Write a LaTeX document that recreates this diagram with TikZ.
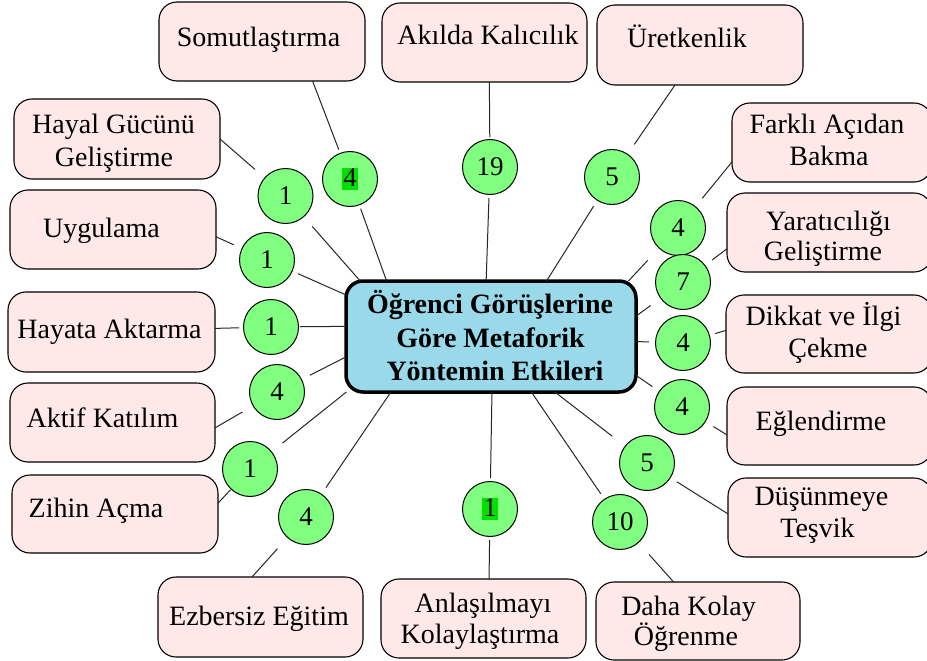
\documentclass[tikz,border=0pt]{standalone}
\usepackage{fontspec}
\setmainfont{Liberation Serif}
\definecolor{boxpink}{HTML}{FFE8E8}
\definecolor{circgreen}{HTML}{80FF80}
\definecolor{mainblue}{HTML}{99D9EA}
\definecolor{hlgreen}{HTML}{00E000}
\newcommand{\hlnum}[1]{{\setlength{\fboxsep}{1pt}\colorbox{hlgreen}{\rule[-3pt]{0pt}{20pt}#1}}}
\begin{document}
\begin{tikzpicture}[x=1pt,y=-1pt,
  pinkbox/.style={draw=black, line width=1.1pt, fill=boxpink, rounded corners=18pt, inner sep=0pt, outer sep=0pt},
  numcirc/.style={circle, draw=black, line width=1pt, fill=circgreen, minimum size=55pt, inner sep=0pt, outer sep=0pt, font=\fontsize{27}{30}\selectfont},
  mainbox/.style={draw=black, line width=3.5pt, fill=mainblue, rounded corners=17pt, inner sep=0pt, outer sep=0pt},
  lbl/.style={anchor=base, inner sep=0pt, font=\fontsize{28}{33}\selectfont},
  mainlbl/.style={anchor=base, inner sep=0pt, font=\fontsize{28}{33}\selectfont\bfseries},
  spoke/.style={draw=black!85, line width=1pt}
]
\useasboundingbox (0,0) rectangle (927,661);

% central box
\node[mainbox, minimum width=290pt, minimum height=111pt] (m) at (491,336.5) {};
\node[mainlbl] (mt1) at (490,313) {Öğrenci Görüşlerine};
\node[mainlbl] (mt2) at (490.5,347) {Göre Metaforik};
\node[mainlbl] (mt3) at (495,380) {Yöntemin Etkileri};

% outer boxes
\node[pinkbox, minimum width=206pt, minimum height=79pt] (b1) at (262,41.5) {};
\node[pinkbox, minimum width=205pt, minimum height=79pt] (b2) at (484.5,42.5) {};
\node[pinkbox, minimum width=206pt, minimum height=80pt] (b3) at (700,45) {};
\node[pinkbox, minimum width=206pt, minimum height=80pt] (b4) at (117,139) {};
\node[pinkbox, minimum width=200pt, minimum height=79pt] (b5) at (832,142.5) {};
\node[pinkbox, minimum width=206pt, minimum height=79pt] (b6) at (113,229.5) {};
\node[pinkbox, minimum width=205pt, minimum height=79pt] (b7) at (829.5,232.5) {};
\node[pinkbox, minimum width=207pt, minimum height=80pt] (b8) at (111.5,332) {};
\node[pinkbox, minimum width=206pt, minimum height=78pt] (b9) at (829,334) {};
\node[pinkbox, minimum width=205pt, minimum height=79pt] (b10) at (112.5,422.5) {};
\node[pinkbox, minimum width=205pt, minimum height=78pt] (b11) at (829.5,426) {};
\node[pinkbox, minimum width=206pt, minimum height=78pt] (b12) at (115,514) {};
\node[pinkbox, minimum width=204pt, minimum height=79pt] (b13) at (830,517.5) {};
\node[pinkbox, minimum width=205pt, minimum height=80pt] (b14) at (260.5,617) {};
\node[pinkbox, minimum width=205pt, minimum height=79pt] (b15) at (483.5,618.5) {};
\node[pinkbox, minimum width=204pt, minimum height=78pt] (b16) at (698,621) {};

% box texts
\node[lbl] (t1) at (258.5,47) {Somutlaştırma};
\node[lbl] (t2) at (488,45) {Akılda Kalıcılık};
\node[lbl] (t3) at (687,48) {Üretkenlik};
\node[lbl] (t4a) at (113.5,133) {Hayal Gücünü};
\node[lbl] (t4b) at (114,166) {Geliştirme};
\node[lbl] (t5a) at (827,133) {Farklı Açıdan};
\node[lbl] (t5b) at (829,165) {Bakma};
\node[lbl] (t6) at (101.5,237) {Uygulama};
\node[lbl] (t7a) at (828.5,230) {Yaratıcılığı};
\node[lbl] (t7b) at (823,260) {Geliştirme};
\node[lbl] (t8) at (109.5,338) {Hayata Aktarma};
\node[lbl] (t9a) at (823.5,325) {Dikkat ve İlgi};
\node[lbl] (t9b) at (828,357) {Çekme};
\node[lbl] (t10) at (102.5,427) {Aktif Katılım};
\node[lbl] (t11) at (821,430) {Eğlendirme};
\node[lbl] (t12) at (96,517) {Zihin Açma};
\node[lbl] (t13a) at (821.5,505) {Düşünmeye};
\node[lbl] (t13b) at (817.5,537) {Teşvik};
\node[lbl] (t14) at (259,625) {Ezbersiz Eğitim};
\node[lbl] (t15a) at (483,612) {Anlaşılmayı};
\node[lbl] (t15b) at (480,643) {Kolaylaştırma};
\node[lbl] (t16a) at (688.5,615) {Daha Kolay};
\node[lbl] (t16b) at (686,645) {Öğrenme};

% number circles
\node[numcirc] (c1) at (350,179) {\hlnum{4}};
\node[numcirc] (c2) at (490,167) {19};
\node[numcirc] (c3) at (612,177) {5};
\node[numcirc] (c4) at (285.5,196) {1};
\node[numcirc] (c5) at (678,228) {4};
\node[numcirc] (c6) at (267,260) {1};
\node[numcirc] (c7) at (683,282) {7};
\node[numcirc] (c8) at (271,327) {1};
\node[numcirc] (c9) at (683,343) {4};
\node[numcirc] (c10) at (277,392) {4};
\node[numcirc] (c11) at (682,407) {4};
\node[numcirc] (c12) at (250,469) {1};
\node[numcirc] (c13) at (647,463) {5};
\node[numcirc] (c14) at (306,517) {4};
\node[numcirc] (c15) at (490,509) {\hlnum{1}};
\node[numcirc] (c16) at (620,522) {10};

% spokes: box -> circle, circle -> central box
\draw[spoke, shorten >=4pt]  (b1.-38) -- (c1);
\draw[spoke, shorten <=4pt]  (c1) -- (m.152.4);
\draw[spoke, shorten >=2.5pt] (b2.-83.5) -- (c2);
\draw[spoke, shorten <=3.5pt] (c2) -- (m.95.1);
\draw[spoke, shorten >=12pt] (b3.-122) -- (c3);
\draw[spoke, shorten <=7pt]  (c3) -- (m.45.3);
\draw[spoke, shorten >=13pt] (b4.east) -- (c4);
\draw[spoke, shorten <=13pt] (c4) -- (m.157.6);
\draw[spoke, shorten >=11pt] (b5.-169) -- (c5);
\draw[spoke, shorten <=17pt] (c5) -- (m.22.8);
\draw[spoke, shorten >=9pt]  (b6.-4.2) -- (c6);
\draw[spoke, shorten <=6.5pt] (c6) -- (m.164.7);
\draw[spoke, shorten >=9pt]  (b7.-171.4) -- (c7);
\draw[spoke, shorten <=12.5pt] (c7) -- (m.8.4);
\draw[spoke, shorten >=4.5pt] (b8.2.5) -- (c8);
\draw[spoke, shorten <=1.5pt] (c8) -- (m.176.3);
\draw[spoke, shorten >=6pt]  (b9.178.9) -- (c9);
\draw[spoke, shorten <=6.5pt] (c9) -- (m.-2.2);
\draw[spoke, shorten >=12.5pt] (b10.-3.6) -- (c10);
\draw[spoke, shorten <=9.5pt] (c10) -- (m.-172.7);
\draw[spoke, shorten >=9.5pt] (b11.-175) -- (c11);
\draw[spoke, shorten <=8.5pt] (c11) -- (m.-15.6);
\draw[spoke, shorten >=1pt]  (b12.6.6) -- (c12);
\draw[spoke, shorten <=14pt] (c12) -- (m.-159.9);
\draw[spoke, shorten >=8pt]  (b13.178.6) -- (c13);
\draw[spoke, shorten <=16.5pt] (c13) -- (m.-41.8);
\draw[spoke, shorten >=15pt] (b14.102.3) -- (c14);
\draw[spoke, shorten <=8pt]  (c14) -- (m.-151.7);
\draw[spoke, shorten >=3.5pt] (b15.82) -- (c15);
\draw[spoke, shorten <=3.5pt] (c15) -- (m.-89);
\draw[spoke, shorten >=16pt] (b16.122.7) -- (c16);
\draw[spoke, shorten <=6.5pt] (c16) -- (m.-54.9);
\end{tikzpicture}
\end{document}
